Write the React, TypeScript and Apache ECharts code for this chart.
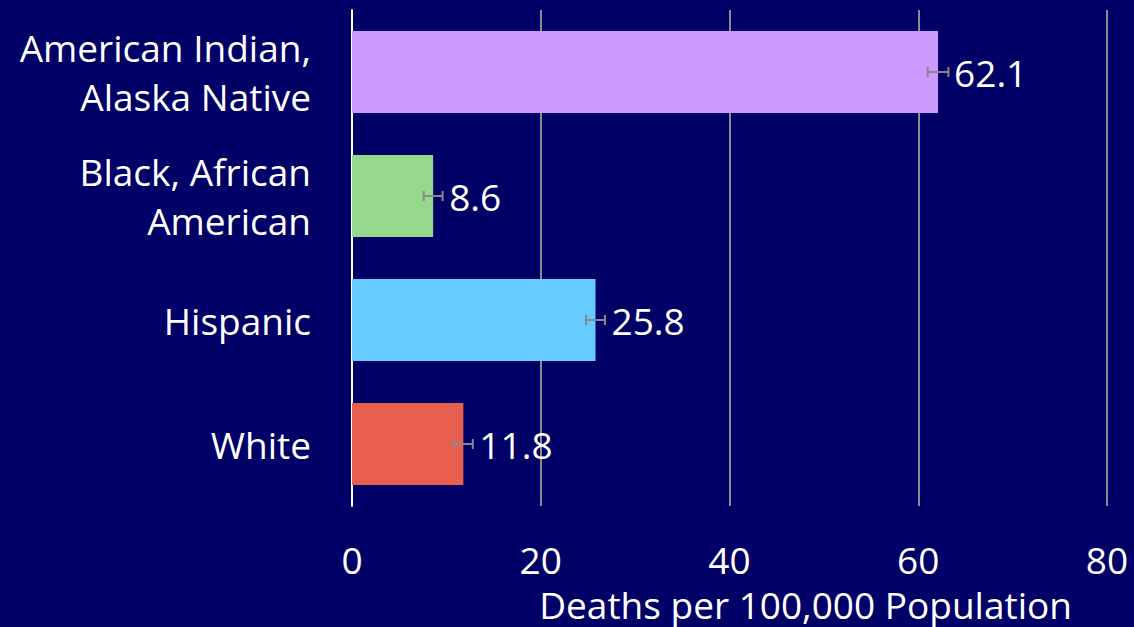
import React, { useEffect, useRef } from "react";
import * as echarts from "echarts";

const categories = ["American Indian,\nAlaska Native", "Black, African\nAmerican", "Hispanic", "White"];
const values = [62.1, 8.6, 25.8, 11.8];
const errLow = [61.0, 7.6, 24.8, 10.8];
const errHigh = [63.2, 9.6, 26.8, 12.8];
const colors = ["#CC99FF", "#97D88D", "#66CCFF", "#E85E4F"];
const axisTitle = "Deaths per 100,000 Population";

export default function App() {
  const ref = useRef<HTMLDivElement>(null);
  useEffect(() => {
    if (!ref.current) return;
    const chart = echarts.init(ref.current, undefined, { renderer: "svg" });
    const font = "'Open Sans', sans-serif";
    const fs = 37;
    chart.setOption({
      animation: false,
      backgroundColor: "#000066",
      grid: { left: 352, right: 27, top: 10, bottom: 121 },
      xAxis: {
        type: "value",
        min: 0,
        max: 80,
        interval: 20,
        axisLine: { show: false },
        axisTick: { show: false },
        axisLabel: { color: "#fff", fontSize: fs, fontFamily: font, margin: 37, lineHeight: 32 },
        splitLine: { show: true, lineStyle: { color: "#8c8c8c", width: 2 } },
      },
      yAxis: {
        type: "category",
        data: categories,
        inverse: true,
        axisLine: { show: true, lineStyle: { color: "#fff", width: 2 } },
        axisTick: { show: false },
        axisLabel: { color: "#fff", fontSize: fs, fontFamily: font, margin: 41, lineHeight: 49, align: "right" },
      },
      graphic: [
        {
          type: "text",
          right: 62,
          top: 586,
          style: { text: axisTitle, fill: "#fff", fontSize: fs, fontFamily: font, lineHeight: 34 },
        },
      ],
      series: [
        {
          type: "bar",
          barCategoryGap: "34%",
          data: values.map((v, i) => ({ value: v, itemStyle: { color: colors[i] } })),
          label: {
            show: true,
            position: "right",
            distance: 16,
            color: "#fff",
            fontSize: fs,
            fontFamily: font,
          },
          z: 2,
        },
        {
          type: "custom",
          z: 3,
          data: values.map((v, i) => [i, errLow[i], errHigh[i]]),
          renderItem: (params: any, api: any) => {
            const idx = api.value(0);
            const lo = api.coord([api.value(1), idx]);
            const hi = api.coord([api.value(2), idx]);
            const h = 5;
            const style = { stroke: "#8a8a8a", lineWidth: 2 };
            return {
              type: "group",
              children: [
                { type: "line", shape: { x1: lo[0], y1: lo[1], x2: hi[0], y2: hi[1] }, style },
                { type: "line", shape: { x1: lo[0], y1: lo[1] - h, x2: lo[0], y2: lo[1] + h }, style },
                { type: "line", shape: { x1: hi[0], y1: hi[1] - h, x2: hi[0], y2: hi[1] + h }, style },
              ],
            };
          },
        },
      ],
    });
    return () => chart.dispose();
  }, []);
  return <div ref={ref} style={{ position: "fixed", left: 0, top: 0, width: 1134, height: 627 }} />;
}
